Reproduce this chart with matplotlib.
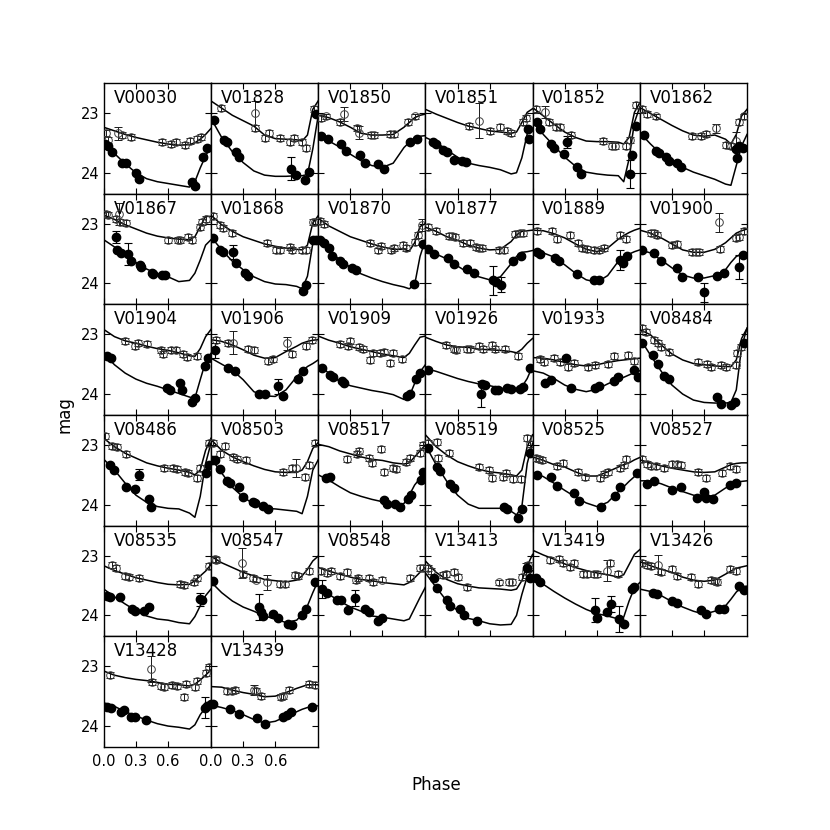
import matplotlib
matplotlib.use("Agg")
import matplotlib.pyplot as plt

STARS = ["V00030", "V01828", "V01850", "V01851", "V01852", "V01862",
         "V01867", "V01868", "V01870", "V01877", "V01889", "V01900",
         "V01904", "V01906", "V01909", "V01926", "V01933", "V08484",
         "V08486", "V08503", "V08517", "V08519", "V08525", "V08527",
         "V08535", "V08547", "V08548", "V13413", "V13419", "V13426",
         "V13428", "V13439"]

# template fits, sampled at these phases
MODEL_PHASE = [0.0, 0.1, 0.2, 0.3, 0.4, 0.5, 0.6, 0.7, 0.8, 0.85, 0.9, 0.95, 1.0]

MODEL_UPPER = {
    "V00030": [23.24, 23.30, 23.36, 23.41, 23.45, 23.49, 23.52, 23.54, 23.53, 23.50, 23.44, 23.36, 23.26],
    "V01828": [22.80, 22.92, 23.04, 23.13, 23.22, 23.37, 23.43, 23.44, 23.45, 23.47, 23.37, 22.94, 22.80],
    "V01850": [23.04, 23.08, 23.15, 23.24, 23.34, 23.37, 23.37, 23.36, 23.24, 23.16, 23.08, 23.04, 23.02],
    "V01851": [22.94, 23.02, 23.09, 23.16, 23.22, 23.26, 23.30, 23.32, 23.34, 23.32, 23.16, 22.99, 22.93],
    "V01852": [22.91, 23.05, 23.19, 23.32, 23.41, 23.47, 23.48, 23.48, 23.49, 23.52, 23.41, 22.99, 22.83],
    "V01862": [22.91, 23.01, 23.11, 23.21, 23.30, 23.37, 23.39, 23.37, 23.44, 23.52, 23.36, 23.05, 22.94],
    "V01867": [22.86, 22.93, 23.02, 23.09, 23.16, 23.21, 23.24, 23.26, 23.27, 23.22, 23.05, 22.88, 22.88],
    "V01868": [22.86, 23.02, 23.13, 23.22, 23.28, 23.34, 23.38, 23.41, 23.43, 23.44, 23.36, 22.99, 22.87],
    "V01870": [22.91, 23.04, 23.13, 23.22, 23.28, 23.34, 23.39, 23.43, 23.43, 23.46, 23.32, 23.05, 23.00],
    "V01877": [23.06, 23.13, 23.22, 23.28, 23.36, 23.41, 23.44, 23.43, 23.30, 23.19, 23.13, 23.12, 23.11],
    "V01889": [23.11, 23.12, 23.17, 23.24, 23.34, 23.43, 23.47, 23.41, 23.26, 23.20, 23.15, 23.11, 23.08],
    "V01900": [23.11, 23.16, 23.24, 23.34, 23.44, 23.48, 23.48, 23.43, 23.32, 23.24, 23.16, 23.12, 23.09],
    "V01904": [22.92, 23.04, 23.11, 23.15, 23.20, 23.24, 23.27, 23.31, 23.36, 23.37, 23.24, 23.04, 22.92],
    "V01906": [23.09, 23.12, 23.18, 23.26, 23.35, 23.40, 23.39, 23.29, 23.20, 23.15, 23.12, 23.10, 23.09],
    "V01909": [23.03, 23.10, 23.15, 23.21, 23.25, 23.29, 23.33, 23.36, 23.39, 23.32, 23.18, 23.05, 23.03],
    "V01926": [23.05, 23.12, 23.18, 23.21, 23.22, 23.25, 23.26, 23.27, 23.29, 23.31, 23.25, 23.15, 23.07],
    "V01933": [23.39, 23.40, 23.43, 23.47, 23.51, 23.53, 23.51, 23.47, 23.44, 23.43, 23.42, 23.41, 23.40],
    "V08484": [22.92, 23.01, 23.18, 23.33, 23.43, 23.49, 23.51, 23.53, 23.54, 23.54, 23.43, 23.07, 22.90],
    "V08486": [22.89, 23.03, 23.14, 23.22, 23.30, 23.35, 23.39, 23.42, 23.46, 23.50, 23.42, 23.09, 22.89],
    "V08503": [22.91, 23.09, 23.20, 23.28, 23.35, 23.41, 23.45, 23.46, 23.46, 23.42, 23.28, 23.06, 22.96],
    "V08517": [22.99, 23.03, 23.10, 23.15, 23.20, 23.24, 23.26, 23.30, 23.32, 23.30, 23.20, 23.10, 23.00],
    "V08519": [22.83, 23.03, 23.17, 23.28, 23.35, 23.41, 23.45, 23.47, 23.50, 23.52, 23.42, 23.03, 22.83],
    "V08525": [23.20, 23.26, 23.33, 23.37, 23.45, 23.52, 23.52, 23.45, 23.37, 23.33, 23.30, 23.25, 23.21],
    "V08527": [23.25, 23.30, 23.35, 23.39, 23.42, 23.45, 23.46, 23.45, 23.37, 23.33, 23.31, 23.30, 23.30],
    "V08535": [23.17, 23.25, 23.31, 23.37, 23.41, 23.45, 23.48, 23.49, 23.48, 23.42, 23.34, 23.26, 23.15],
    "V08547": [23.01, 23.12, 23.20, 23.28, 23.34, 23.40, 23.42, 23.44, 23.41, 23.34, 23.23, 23.09, 23.01],
    "V08548": [23.20, 23.26, 23.31, 23.36, 23.40, 23.42, 23.45, 23.47, 23.49, 23.45, 23.37, 23.28, 23.20],
    "V13413": [23.09, 23.28, 23.40, 23.47, 23.51, 23.54, 23.55, 23.56, 23.58, 23.56, 23.42, 23.17, 22.98],
    "V13419": [22.91, 22.99, 23.06, 23.14, 23.20, 23.25, 23.29, 23.32, 23.36, 23.32, 23.15, 22.98, 22.90],
    "V13426": [23.10, 23.17, 23.23, 23.28, 23.36, 23.41, 23.43, 23.41, 23.31, 23.26, 23.21, 23.19, 23.17],
    "V13428": [23.08, 23.15, 23.19, 23.22, 23.24, 23.27, 23.30, 23.31, 23.33, 23.30, 23.23, 23.15, 23.06],
    "V13439": [23.34, 23.35, 23.40, 23.44, 23.47, 23.51, 23.50, 23.44, 23.37, 23.34, 23.31, 23.31, 23.31],
}

MODEL_LOWER = {
    "V00030": [23.52, 23.68, 23.85, 24.00, 24.10, 24.15, 24.18, 24.21, 24.24, 24.15, 23.92, 23.72, 23.55],
    "V01828": [23.09, 23.41, 23.65, 23.83, 23.97, 24.04, 24.06, 24.06, 24.05, 24.05, 24.03, 23.60, 23.05],
    "V01850": [23.36, 23.47, 23.57, 23.69, 23.80, 23.88, 23.91, 23.84, 23.58, 23.49, 23.44, 23.39, 23.38],
    "V01851": [23.41, 23.49, 23.62, 23.74, 23.84, 23.88, 23.91, 23.95, 24.02, 24.00, 23.75, 23.35, 23.28],
    "V01852": [23.11, 23.36, 23.55, 23.74, 23.89, 23.99, 24.02, 24.04, 24.05, 24.15, 23.77, 23.16, 22.90],
    "V01862": [23.33, 23.52, 23.69, 23.80, 23.91, 23.99, 24.05, 24.11, 24.19, 24.21, 23.88, 23.55, 23.36],
    "V01867": [23.27, 23.39, 23.52, 23.65, 23.76, 23.84, 23.89, 23.97, 23.95, 23.83, 23.61, 23.36, 23.27],
    "V01868": [23.22, 23.44, 23.63, 23.77, 23.89, 23.97, 24.01, 24.02, 24.05, 24.09, 23.88, 23.33, 23.24],
    "V01870": [23.26, 23.43, 23.61, 23.73, 23.84, 23.91, 23.97, 24.02, 24.06, 24.09, 24.02, 23.55, 23.27],
    "V01877": [23.41, 23.51, 23.59, 23.71, 23.82, 23.89, 23.94, 23.89, 23.67, 23.55, 23.48, 23.47, 23.45],
    "V01889": [23.47, 23.49, 23.56, 23.69, 23.83, 23.94, 23.98, 23.87, 23.63, 23.55, 23.51, 23.47, 23.44],
    "V01900": [23.44, 23.49, 23.61, 23.74, 23.86, 23.91, 23.91, 23.87, 23.77, 23.65, 23.55, 23.51, 23.49],
    "V01904": [23.32, 23.51, 23.65, 23.75, 23.82, 23.87, 23.93, 23.99, 24.05, 24.07, 23.76, 23.46, 23.32],
    "V01906": [23.40, 23.50, 23.60, 23.76, 23.96, 24.03, 24.04, 23.93, 23.71, 23.62, 23.54, 23.49, 23.43],
    "V01909": [23.51, 23.65, 23.79, 23.86, 23.90, 23.94, 23.97, 24.01, 24.09, 24.04, 23.82, 23.63, 23.51],
    "V01926": [23.57, 23.62, 23.68, 23.74, 23.79, 23.83, 23.86, 23.90, 23.93, 23.94, 23.88, 23.74, 23.53],
    "V01933": [23.61, 23.65, 23.74, 23.85, 23.92, 23.96, 23.92, 23.83, 23.75, 23.72, 23.68, 23.64, 23.61],
    "V08484": [23.07, 23.35, 23.62, 23.85, 24.00, 24.10, 24.14, 24.15, 24.15, 24.14, 23.93, 23.21, 22.90],
    "V08486": [23.24, 23.42, 23.64, 23.84, 23.96, 24.03, 24.06, 24.07, 24.14, 24.21, 23.86, 23.31, 22.97],
    "V08503": [23.22, 23.47, 23.71, 23.87, 23.99, 24.06, 24.07, 24.09, 24.11, 24.15, 23.86, 23.42, 23.25],
    "V08517": [23.50, 23.59, 23.70, 23.80, 23.86, 23.91, 23.95, 24.00, 23.98, 23.84, 23.67, 23.56, 23.45],
    "V08519": [23.00, 23.33, 23.61, 23.84, 23.99, 24.06, 24.06, 24.06, 24.11, 24.17, 24.03, 23.31, 22.97],
    "V08525": [23.46, 23.53, 23.64, 23.76, 23.87, 23.97, 24.03, 23.96, 23.78, 23.70, 23.61, 23.53, 23.46],
    "V08527": [23.60, 23.60, 23.65, 23.72, 23.78, 23.84, 23.87, 23.84, 23.72, 23.67, 23.63, 23.61, 23.60],
    "V08535": [23.56, 23.69, 23.81, 23.92, 24.01, 24.06, 24.08, 24.12, 24.14, 24.02, 23.84, 23.67, 23.56],
    "V08547": [23.44, 23.62, 23.76, 23.86, 23.93, 24.01, 24.06, 24.12, 24.08, 23.98, 23.84, 23.62, 23.42],
    "V08548": [23.51, 23.65, 23.76, 23.86, 23.93, 24.01, 24.03, 24.06, 24.09, 24.06, 23.88, 23.70, 23.53],
    "V13413": [23.29, 23.53, 23.76, 23.92, 24.05, 24.09, 24.14, 24.16, 24.15, 24.00, 23.65, 23.35, 23.25],
    "V13419": [23.31, 23.48, 23.60, 23.71, 23.81, 23.90, 23.97, 24.01, 24.06, 24.03, 23.76, 23.54, 23.45],
    "V13426": [23.56, 23.60, 23.67, 23.77, 23.86, 23.93, 23.98, 23.93, 23.84, 23.73, 23.61, 23.53, 23.51],
    "V13428": [23.61, 23.67, 23.76, 23.83, 23.90, 23.96, 24.00, 24.02, 24.05, 23.98, 23.81, 23.69, 23.61],
    "V13439": [23.65, 23.69, 23.74, 23.81, 23.89, 23.95, 23.92, 23.84, 23.76, 23.72, 23.69, 23.68, 23.66],
}

# observed points (phase, mag); open = upper band, filled = lower band
OPEN = {
    "V00030": [(0.02, 23.33), (0.04, 23.45), (0.17, 23.37), (0.25, 23.41), (0.54, 23.48), (0.63, 23.52),
               (0.67, 23.48), (0.76, 23.54), (0.80, 23.47), (0.87, 23.43), (0.91, 23.41)],
    "V01828": [(0.09, 22.92), (0.41, 23.26), (0.50, 23.42), (0.54, 23.34), (0.64, 23.42), (0.74, 23.48),
               (0.77, 23.42), (0.85, 23.49), (0.89, 23.58), (0.96, 22.94)],
    "V01850": [(0.03, 23.08), (0.07, 23.06), (0.20, 23.15), (0.36, 23.26), (0.49, 23.37), (0.52, 23.37),
               (0.67, 23.36), (0.71, 23.36), (0.84, 23.16), (0.90, 23.06)],
    "V01851": [(0.41, 23.22), (0.60, 23.30), (0.70, 23.24), (0.76, 23.30), (0.80, 23.33), (0.91, 23.16),
               (0.94, 23.08)],
    "V01852": [(0.03, 22.93), (0.15, 23.15), (0.22, 23.23), (0.26, 23.23), (0.36, 23.37), (0.66, 23.47),
               (0.74, 23.55), (0.77, 23.55), (0.87, 23.55), (0.91, 23.45), (0.96, 22.86)],
    "V01862": [(0.02, 22.94), (0.07, 23.02), (0.15, 23.06), (0.49, 23.39), (0.57, 23.38), (0.62, 23.36),
               (0.80, 23.54), (0.85, 23.55), (0.93, 23.16), (0.97, 23.06)],
    "V01867": [(0.02, 22.84), (0.04, 22.86), (0.11, 22.93), (0.15, 22.98), (0.21, 22.99), (0.60, 23.27),
               (0.69, 23.27), (0.71, 23.28), (0.79, 23.23), (0.82, 23.28), (0.90, 23.05), (0.92, 22.97),
               (0.95, 22.93)],
    "V01868": [(0.02, 22.87), (0.08, 23.02), (0.11, 23.08), (0.20, 23.16), (0.52, 23.32), (0.61, 23.44),
               (0.64, 23.45), (0.74, 23.39), (0.76, 23.44), (0.85, 23.44), (0.89, 23.44), (0.95, 22.98),
               (0.97, 22.97)],
    "V01870": [(0.02, 22.95), (0.05, 23.01), (0.48, 23.33), (0.56, 23.45), (0.59, 23.38), (0.68, 23.45),
               (0.71, 23.41), (0.79, 23.36), (0.82, 23.41), (0.90, 23.30), (0.93, 23.19)],
    "V01877": [(0.02, 23.06), (0.10, 23.13), (0.22, 23.21), (0.25, 23.21), (0.28, 23.23), (0.35, 23.32),
               (0.42, 23.32), (0.47, 23.39), (0.50, 23.41), (0.53, 23.41), (0.69, 23.44), (0.73, 23.44),
               (0.84, 23.17), (0.88, 23.16), (0.91, 23.15)],
    "V01889": [(0.04, 23.13), (0.18, 23.13), (0.23, 23.26), (0.35, 23.19), (0.42, 23.33), (0.46, 23.41),
               (0.51, 23.43), (0.57, 23.44), (0.62, 23.45), (0.67, 23.41), (0.82, 23.19), (0.87, 23.26)],
    "V01900": [(0.10, 23.15), (0.13, 23.16), (0.16, 23.19), (0.30, 23.36), (0.35, 23.34), (0.49, 23.48),
               (0.52, 23.48), (0.55, 23.48), (0.75, 23.43), (0.90, 23.24), (0.93, 23.22), (0.97, 23.13)],
    "V01904": [(0.20, 23.12), (0.29, 23.20), (0.32, 23.14), (0.40, 23.16), (0.53, 23.26), (0.55, 23.33),
               (0.63, 23.26), (0.67, 23.26), (0.74, 23.33), (0.78, 23.38), (0.87, 23.36)],
    "V01906": [(0.05, 23.10), (0.16, 23.14), (0.35, 23.25), (0.40, 23.27), (0.53, 23.44), (0.58, 23.42),
               (0.76, 23.33), (0.89, 23.20), (0.94, 23.10)],
    "V01909": [(0.20, 23.16), (0.28, 23.20), (0.30, 23.12), (0.38, 23.22), (0.42, 23.25), (0.48, 23.43),
               (0.51, 23.31), (0.58, 23.31), (0.61, 23.29), (0.67, 23.48), (0.70, 23.32), (0.78, 23.42)],
    "V01926": [(0.19, 23.18), (0.27, 23.24), (0.29, 23.26), (0.39, 23.24), (0.42, 23.24), (0.50, 23.20),
               (0.54, 23.24), (0.62, 23.18), (0.65, 23.25), (0.74, 23.25), (0.86, 23.36)],
    "V01933": [(0.07, 23.42), (0.11, 23.46), (0.20, 23.40), (0.26, 23.46), (0.33, 23.54), (0.39, 23.48),
               (0.52, 23.55), (0.58, 23.51), (0.70, 23.50), (0.76, 23.36), (0.89, 23.35), (0.95, 23.44)],
    "V08484": [(0.02, 22.89), (0.06, 22.96), (0.13, 23.09), (0.17, 23.15), (0.20, 23.21), (0.27, 23.29),
               (0.54, 23.46), (0.63, 23.50), (0.66, 23.54), (0.76, 23.51), (0.80, 23.55), (0.90, 23.51),
               (0.91, 23.32), (0.94, 23.22)],
    "V08486": [(0.01, 22.85), (0.08, 23.02), (0.12, 23.03), (0.21, 23.15), (0.56, 23.38), (0.65, 23.38),
               (0.68, 23.41), (0.76, 23.45), (0.79, 23.47), (0.87, 23.56), (0.90, 23.39), (0.98, 22.97)],
    "V08503": [(0.02, 22.96), (0.08, 23.15), (0.13, 23.02), (0.21, 23.21), (0.24, 23.24), (0.33, 23.26),
               (0.67, 23.46), (0.76, 23.39), (0.88, 23.53), (0.91, 23.34), (0.97, 22.97)],
    "V08517": [(0.27, 23.24), (0.36, 23.15), (0.38, 23.11), (0.47, 23.22), (0.50, 23.31), (0.59, 23.07),
               (0.61, 23.45), (0.70, 23.38), (0.73, 23.41), (0.82, 23.28), (0.86, 23.22), (0.95, 23.13),
               (0.98, 23.00)],
    "V08519": [(0.02, 22.97), (0.11, 22.95), (0.12, 23.22), (0.22, 23.13), (0.50, 23.37), (0.59, 23.42),
               (0.62, 23.56), (0.72, 23.53), (0.75, 23.47), (0.82, 23.57), (0.89, 23.57), (0.95, 22.89),
               (0.98, 22.99)],
    "V08525": [(0.03, 23.22), (0.06, 23.24), (0.09, 23.26), (0.23, 23.36), (0.28, 23.31), (0.42, 23.46),
               (0.49, 23.53), (0.63, 23.56), (0.67, 23.49), (0.70, 23.45), (0.82, 23.39), (0.85, 23.34),
               (0.87, 23.24)],
    "V08527": [(0.02, 23.24), (0.07, 23.32), (0.10, 23.35), (0.15, 23.35), (0.23, 23.39), (0.30, 23.32),
               (0.35, 23.32), (0.38, 23.34), (0.54, 23.45), (0.62, 23.56), (0.77, 23.47), (0.84, 23.35),
               (0.90, 23.41)],
    "V08535": [(0.08, 23.16), (0.11, 23.20), (0.20, 23.34), (0.24, 23.36), (0.33, 23.38), (0.71, 23.48),
               (0.75, 23.49), (0.84, 23.45), (0.87, 23.37), (0.98, 23.17)],
    "V08547": [(0.04, 23.06), (0.05, 23.08), (0.30, 23.30), (0.39, 23.38), (0.42, 23.40), (0.64, 23.47),
               (0.69, 23.48), (0.78, 23.32), (0.81, 23.34), (0.91, 23.25)],
    "V08548": [(0.03, 23.26), (0.08, 23.29), (0.12, 23.26), (0.20, 23.34), (0.27, 23.27), (0.35, 23.41),
               (0.37, 23.37), (0.47, 23.38), (0.51, 23.44), (0.60, 23.40), (0.86, 23.38), (0.95, 23.20),
               (0.98, 23.21)],
    "V13413": [(0.02, 23.20), (0.05, 23.25), (0.16, 23.32), (0.19, 23.30), (0.27, 23.28), (0.30, 23.36),
               (0.39, 23.52), (0.69, 23.45), (0.78, 23.44), (0.81, 23.44), (0.90, 23.36), (0.96, 23.15)],
    "V13419": [(0.16, 23.08), (0.25, 23.05), (0.28, 23.13), (0.35, 23.19), (0.39, 23.12), (0.47, 23.30),
               (0.51, 23.30), (0.57, 23.30), (0.60, 23.31), (0.72, 23.12), (0.80, 23.31)],
    "V13426": [(0.02, 23.12), (0.07, 23.15), (0.10, 23.17), (0.20, 23.28), (0.30, 23.23), (0.35, 23.34),
               (0.48, 23.36), (0.54, 23.47), (0.66, 23.41), (0.70, 23.42), (0.72, 23.44), (0.84, 23.23),
               (0.90, 23.25)],
    "V13428": [(0.06, 23.15), (0.45, 23.26), (0.53, 23.33), (0.56, 23.34), (0.64, 23.31), (0.68, 23.33),
               (0.75, 23.51), (0.77, 23.30), (0.85, 23.34), (0.87, 23.24), (0.95, 23.11), (0.98, 23.02)],
    "V13439": [(0.15, 23.41), (0.20, 23.41), (0.22, 23.40), (0.42, 23.41), (0.47, 23.50), (0.65, 23.51),
               (0.67, 23.50), (0.73, 23.40), (0.91, 23.29), (0.97, 23.31)],
}

FILLED = {
    "V00030": [(0.01, 23.52), (0.04, 23.56), (0.08, 23.65), (0.17, 23.84), (0.21, 23.84), (0.30, 24.00),
               (0.33, 24.10), (0.82, 24.15), (0.85, 24.22), (0.93, 23.74), (0.96, 23.59)],
    "V01828": [(0.03, 23.12), (0.12, 23.45), (0.15, 23.49), (0.23, 23.65), (0.26, 23.73), (0.79, 24.04),
               (0.88, 24.12), (0.91, 23.98), (0.98, 23.02)],
    "V01850": [(0.03, 23.38), (0.09, 23.44), (0.21, 23.52), (0.26, 23.63), (0.39, 23.71), (0.44, 23.84),
               (0.56, 23.85), (0.61, 23.93), (0.86, 23.48), (0.92, 23.44)],
    "V01851": [(0.07, 23.49), (0.10, 23.52), (0.16, 23.62), (0.20, 23.65), (0.27, 23.78), (0.34, 23.80),
               (0.38, 23.82), (0.96, 23.27), (0.97, 23.44)],
    "V01852": [(0.04, 23.15), (0.07, 23.27), (0.17, 23.52), (0.20, 23.58), (0.29, 23.69), (0.41, 23.91),
               (0.45, 24.02), (0.93, 23.71), (0.96, 23.22)],
    "V01862": [(0.04, 23.37), (0.15, 23.63), (0.18, 23.67), (0.24, 23.74), (0.27, 23.80), (0.35, 23.84),
               (0.38, 23.91), (0.90, 23.60), (0.91, 23.76), (0.93, 23.55), (0.96, 23.58)],
    "V01867": [(0.12, 23.45), (0.16, 23.49), (0.25, 23.63), (0.34, 23.69), (0.35, 23.73), (0.45, 23.83),
               (0.46, 23.84), (0.54, 23.86), (0.57, 23.86)],
    "V01868": [(0.02, 23.24), (0.08, 23.45), (0.11, 23.48), (0.23, 23.66), (0.32, 23.82), (0.35, 23.87),
               (0.86, 24.13), (0.89, 24.02), (0.95, 23.27), (0.98, 23.28)],
    "V01870": [(0.02, 23.28), (0.05, 23.32), (0.10, 23.41), (0.13, 23.55), (0.20, 23.63), (0.23, 23.67),
               (0.32, 23.74), (0.35, 23.77), (0.89, 24.01), (0.98, 23.34)],
    "V01877": [(0.02, 23.43), (0.08, 23.51), (0.21, 23.58), (0.27, 23.67), (0.39, 23.76), (0.45, 23.82),
               (0.66, 23.97), (0.82, 23.62), (0.89, 23.54)],
    "V01889": [(0.04, 23.48), (0.07, 23.51), (0.21, 23.58), (0.25, 23.62), (0.41, 23.84), (0.57, 23.95),
               (0.62, 23.94), (0.84, 23.66), (0.88, 23.54)],
    "V01900": [(0.02, 23.45), (0.13, 23.49), (0.20, 23.63), (0.35, 23.74), (0.39, 23.89), (0.54, 23.89),
               (0.72, 23.87), (0.79, 23.83), (0.96, 23.52)],
    "V01904": [(0.03, 23.37), (0.07, 23.39), (0.59, 23.90), (0.62, 23.93), (0.71, 23.81), (0.73, 23.94),
               (0.82, 24.13), (0.85, 24.07), (0.94, 23.53), (0.97, 23.39)],
    "V01906": [(0.16, 23.57), (0.22, 23.61), (0.45, 24.00), (0.50, 24.00), (0.67, 24.03), (0.81, 23.75),
               (0.86, 23.61)],
    "V01909": [(0.04, 23.57), (0.11, 23.68), (0.14, 23.71), (0.22, 23.78), (0.24, 23.82), (0.83, 24.03),
               (0.86, 24.00), (0.91, 23.75), (0.95, 23.64)],
    "V01926": [(0.02, 23.59), (0.53, 23.83), (0.56, 23.85), (0.65, 23.94), (0.68, 23.93), (0.76, 23.90),
               (0.80, 23.92), (0.88, 23.92), (0.91, 23.88), (0.98, 23.57)],
    "V01933": [(0.12, 23.81), (0.17, 23.77), (0.31, 23.39), (0.36, 23.90), (0.58, 23.90), (0.62, 23.87),
               (0.76, 23.78), (0.80, 23.71), (0.95, 23.59), (0.98, 23.72)],
    "V08484": [(0.02, 23.14), (0.12, 23.35), (0.17, 23.49), (0.23, 23.70), (0.27, 23.74), (0.72, 24.05),
               (0.76, 24.16), (0.85, 24.18), (0.89, 24.14), (0.97, 23.14)],
    "V08486": [(0.06, 23.34), (0.10, 23.42), (0.21, 23.71), (0.29, 23.73), (0.42, 23.91), (0.44, 24.03),
               (0.95, 23.47), (0.98, 23.34)],
    "V08503": [(0.01, 23.26), (0.04, 23.26), (0.08, 23.41), (0.15, 23.61), (0.18, 23.63), (0.26, 23.71),
               (0.30, 23.87), (0.39, 23.96), (0.41, 23.97), (0.49, 24.02), (0.53, 24.07)],
    "V08517": [(0.07, 23.56), (0.11, 23.54), (0.61, 23.92), (0.64, 23.99), (0.72, 23.99), (0.76, 24.04),
               (0.84, 23.91), (0.87, 23.84), (0.96, 23.58), (0.98, 23.46)],
    "V08519": [(0.02, 23.06), (0.11, 23.37), (0.14, 23.43), (0.23, 23.65), (0.27, 23.72), (0.73, 24.04),
               (0.76, 24.07), (0.86, 24.22), (0.90, 24.07), (0.98, 23.14)],
    "V08525": [(0.04, 23.50), (0.17, 23.54), (0.23, 23.69), (0.39, 23.81), (0.43, 23.93), (0.64, 24.04),
               (0.77, 23.85), (0.82, 23.70), (0.97, 23.47)],
    "V08527": [(0.07, 23.65), (0.13, 23.61), (0.30, 23.75), (0.38, 23.71), (0.53, 23.89), (0.60, 23.78),
               (0.62, 23.89), (0.68, 23.91), (0.84, 23.67), (0.90, 23.64)],
    "V08535": [(0.03, 23.67), (0.06, 23.70), (0.15, 23.70), (0.26, 23.90), (0.29, 23.93), (0.38, 23.93),
               (0.42, 23.86), (0.92, 23.75)],
    "V08547": [(0.02, 23.42), (0.47, 23.94), (0.49, 24.01), (0.58, 23.97), (0.63, 24.05), (0.72, 24.14),
               (0.76, 24.16), (0.85, 23.99), (0.89, 23.90), (0.97, 23.45)],
    "V08548": [(0.08, 23.62), (0.18, 23.75), (0.21, 23.75), (0.28, 23.91), (0.44, 23.90), (0.47, 23.95),
               (0.56, 24.09), (0.60, 24.05)],
    "V13413": [(0.08, 23.38), (0.11, 23.55), (0.20, 23.75), (0.23, 23.84), (0.32, 23.90), (0.36, 23.99),
               (0.48, 24.09), (0.95, 23.20), (0.98, 23.37)],
    "V13419": [(0.03, 23.38), (0.07, 23.45), (0.60, 24.04), (0.69, 23.95), (0.85, 24.14), (0.93, 23.56),
               (0.95, 23.52)],
    "V13426": [(0.12, 23.62), (0.16, 23.64), (0.30, 23.76), (0.35, 23.80), (0.57, 23.91), (0.62, 23.98),
               (0.74, 23.90), (0.79, 23.90), (0.93, 23.51), (0.97, 23.58)],
    "V13428": [(0.03, 23.68), (0.07, 23.69), (0.16, 23.76), (0.19, 23.73), (0.25, 23.85), (0.29, 23.85),
               (0.39, 23.90), (0.96, 23.66), (1.00, 23.63)],
    "V13439": [(0.02, 23.63), (0.18, 23.72), (0.26, 23.80), (0.43, 23.87), (0.50, 23.97), (0.67, 23.85),
               (0.71, 23.82), (0.75, 23.76), (0.94, 23.68)],
}

# points with large error bars (phase, mag, err)
OPEN_BIG = {
    "V00030": [(0.13, 23.34, 0.11)],
    "V01828": [(0.41, 23.00, 0.20)],
    "V01850": [(0.24, 23.02, 0.12), (0.38, 23.33, 0.11)],
    "V01851": [(0.50, 23.13, 0.29)],
    "V01852": [(0.12, 22.98, 0.10)],
    "V01862": [(0.71, 23.26, 0.07), (0.90, 23.47, 0.15)],
    "V01867": [(0.14, 22.84, 0.19)],
    "V01870": [(0.97, 23.02, 0.10)],
    "V01900": [(0.74, 22.98, 0.16)],
    "V01906": [(0.21, 23.14, 0.19), (0.71, 23.15, 0.11)],
    "V08503": [(0.79, 23.39, 0.15)],
    "V08547": [(0.29, 23.12, 0.25), (0.52, 23.45, 0.12)],
    "V13413": [(0.94, 23.25, 0.13)],
    "V13419": [(0.69, 23.25, 0.17)],
    "V13426": [(0.17, 23.15, 0.16)],
    "V13428": [(0.44, 23.05, 0.22)],
    "V13439": [(0.40, 23.40, 0.08)],
}

FILLED_BIG = {
    "V01828": [(0.75, 23.93, 0.19)],
    "V01852": [(0.32, 23.49, 0.10), (0.91, 24.02, 0.24)],
    "V01867": [(0.11, 23.23, 0.10), (0.23, 23.51, 0.18)],
    "V01868": [(0.21, 23.48, 0.12)],
    "V01877": [(0.63, 23.95, 0.24), (0.71, 24.02, 0.12)],
    "V01889": [(0.82, 23.61, 0.17)],
    "V01900": [(0.60, 24.15, 0.16), (0.93, 23.73, 0.20)],
    "V01906": [(0.04, 23.27, 0.12), (0.63, 23.87, 0.13)],
    "V01926": [(0.52, 24.00, 0.22)],
    "V08486": [(0.33, 23.50, 0.09)],
    "V08535": [(0.90, 23.73, 0.11)],
    "V08547": [(0.45, 23.86, 0.21)],
    "V08548": [(0.04, 23.56, 0.15), (0.34, 23.71, 0.14)],
    "V13419": [(0.58, 23.91, 0.20), (0.73, 23.81, 0.14), (0.81, 24.06, 0.21)],
    "V13428": [(0.94, 23.69, 0.18)],
}

OPEN_ERR = 0.05
FILLED_ERR = 0.03


def draw_points(ax, pts, big, err, filled):
    rows = [(p, m, err) for p, m in pts] + list(big)
    ph = [r[0] for r in rows]
    mg = [r[1] for r in rows]
    er = [r[2] for r in rows]
    if filled:
        ax.errorbar(ph, mg, yerr=er, fmt="o", color="k", ms=6, capsize=3,
                    elinewidth=0.8, capthick=0.8, zorder=3)
    else:
        ax.errorbar(ph, mg, yerr=er, fmt="o", mfc="none", mec="0.25", mew=0.7,
                    ecolor="0.1", ms=5.5, capsize=3, elinewidth=0.7, capthick=0.7, zorder=3)


def main(outfile="out.png"):
    plt.rcParams["font.family"] = "DejaVu Sans"
    fig, axes = plt.subplots(6, 6, figsize=(8.3, 8.3), dpi=100)
    fig.subplots_adjust(left=0.125, right=0.9, bottom=0.1, top=0.9, wspace=0, hspace=0)

    for i, ax in enumerate(axes.flat):
        if i >= len(STARS):
            ax.axis("off")
            continue
        name = STARS[i]
        r, c = divmod(i, 6)
        ax.plot(MODEL_PHASE, MODEL_UPPER[name], "k-", lw=1.1, zorder=2)
        ax.plot(MODEL_PHASE, MODEL_LOWER[name], "k-", lw=1.1, zorder=2)
        draw_points(ax, OPEN[name], OPEN_BIG.get(name, []), OPEN_ERR, False)
        draw_points(ax, FILLED[name], FILLED_BIG.get(name, []), FILLED_ERR, True)

        ax.set_xlim(0, 1)
        ax.set_ylim(24.35, 22.5)
        ax.set_xticks([0.0, 0.3, 0.6])
        ax.set_yticks([23, 24])
        ax.tick_params(direction="in", top=True, right=True, length=4, width=0.8,
                       labelsize=10.5, labelleft=(c == 0), labelbottom=(i >= 30))
        ax.tick_params(axis="x", pad=5)
        ax.tick_params(axis="y", pad=3)
        for sp in ax.spines.values():
            sp.set_linewidth(1.0)
        ax.text(0.09, 0.865, name, transform=ax.transAxes, fontsize=12, va="center")

    fig.text(0.078, 0.5, "mag", rotation=90, ha="center", va="center", fontsize=12)
    fig.text(0.525, 0.054, "Phase", ha="center", va="center", fontsize=12)
    fig.savefig(outfile, dpi=100, facecolor="white")


if __name__ == "__main__":
    main()
